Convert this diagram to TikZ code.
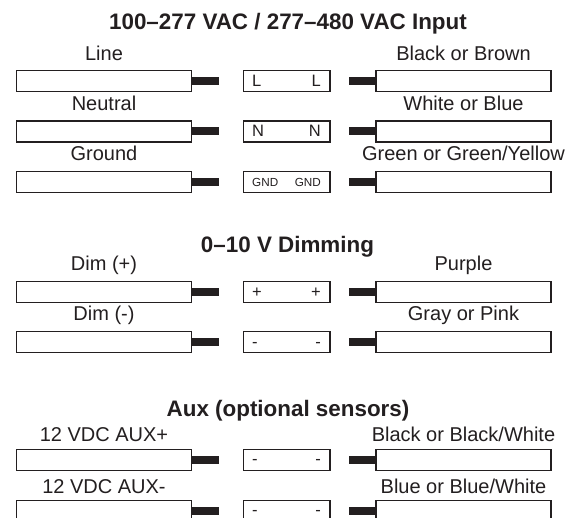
\documentclass[tikz,border=0pt]{standalone}
\usepackage{fontspec}
\setmainfont{Liberation Sans}
\definecolor{ink}{HTML}{231F20}
\tikzset{
 wirebox/.style={draw=ink, line width=1.3pt, fill=white, minimum width=175pt, minimum height=21pt, inner sep=0pt, outer sep=0pt},
 termbox/.style={draw=ink, line width=1.3pt, minimum width=86.5pt, minimum height=21pt, inner sep=0pt, outer sep=0pt},
 stubbar/.style={fill=ink, minimum width=27.5pt, minimum height=8pt, inner sep=0pt, outer sep=0pt},
 lbl/.style={text=ink, font=\fontsize{20}{24}\selectfont, inner sep=0pt, anchor=base},
 ttl/.style={text=ink, font=\bfseries\fontsize{22.4}{26}\selectfont, inner sep=0pt, anchor=base},
 termtxt/.style={text=ink, font=\fontsize{16.5}{19}\selectfont, inner sep=0pt},
 gndtxt/.style={text=ink, font=\fontsize{11.7}{14}\selectfont, inner sep=0pt},
}
\newcommand{\wirerow}[8]{%
 \node[wirebox, anchor=north west] (#1L) at (16.5,#2) {};
 \node[stubbar, anchor=west] (#1a) at (#1L.east) {};
 \node[termbox, anchor=north west] (#1T) at (243.5,#2) {};
 \node[wirebox, anchor=north east] (#1R) at (551,#2) {};
 \node[stubbar, anchor=east] (#1b) at (#1R.west) {};
 \node[#6, anchor=base west] (#1tl) at (252,{#2+15.5}) {#7};
 \node[#6, anchor=base east] (#1tr) at (321,{#2+15.5}) {#8};
 \node[lbl] (#1ll) at (104,{#2-#3}) {#4};
 \node[lbl] (#1rl) at (463.5,{#2-#3}) {#5};
}
\begin{document}
\begin{tikzpicture}[x=1pt,y=-1pt]
\useasboundingbox[fill=white] (0,0) rectangle (579,518);
\node[ttl] (t1) at (288,30) {100--277 VAC / 277--480 VAC Input};
\wirerow{a}{70.7}{10.5}{Line}{Black or Brown}{termtxt}{L}{L}
\wirerow{b}{121}{10.5}{Neutral}{White or Blue}{termtxt}{N}{N}
\wirerow{c}{171.5}{10.5}{Ground}{Green or Green/Yellow}{gndtxt}{GND}{GND}
\node[ttl] (t2) at (287.5,253) {0--10 V Dimming};
\wirerow{d}{281.7}{11}{Dim (+)}{Purple}{termtxt}{+}{+}
\wirerow{e}{331.7}{11}{Dim (-)}{Gray or Pink}{termtxt}{-}{-}
\node[ttl] (t3) at (288,417) {Aux (optional sensors)};
\wirerow{f}{449.3}{7.5}{12 VDC AUX+}{Black or Black/White}{termtxt}{-}{-}
\wirerow{g}{500.5}{7}{12 VDC AUX-}{Blue or Blue/White}{termtxt}{-}{-}
\end{tikzpicture}
\end{document}
